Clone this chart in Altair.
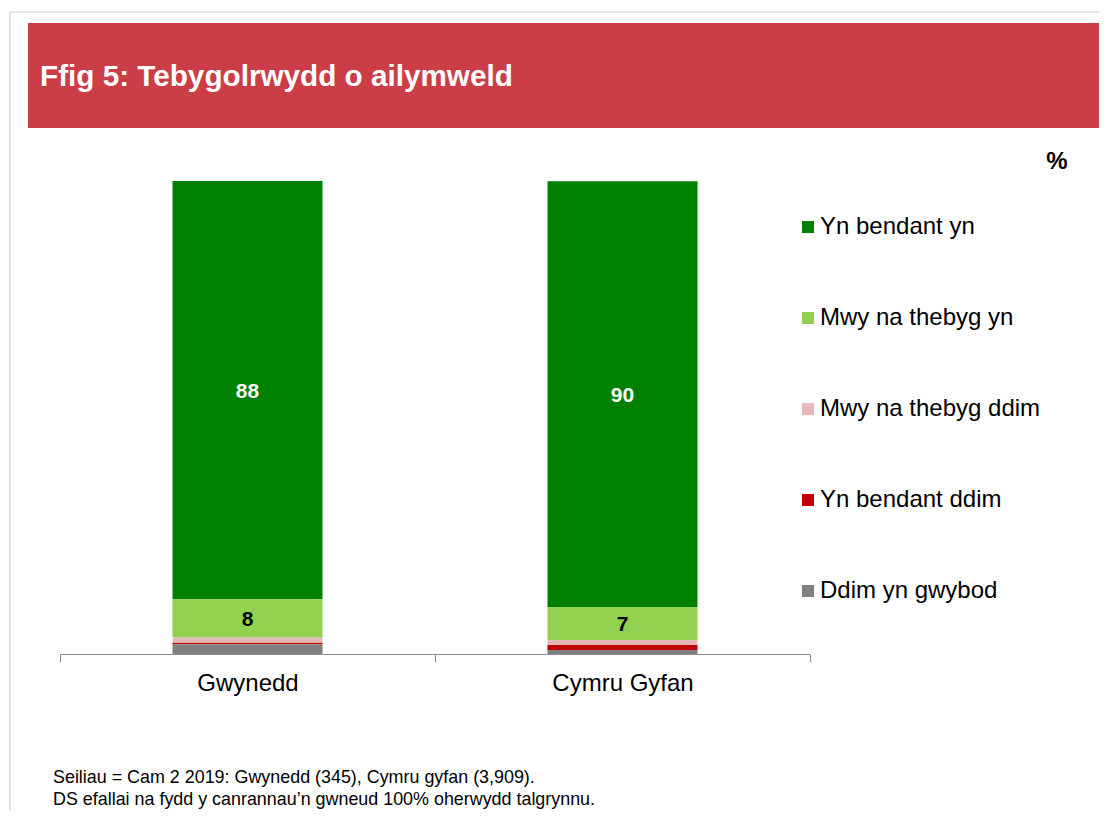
import altair as alt
import pandas as pd

# ---- data ----
areas = ["Gwynedd", "Cymru Gyfan"]
categories = ["Yn bendant yn", "Mwy na thebyg yn", "Mwy na thebyg ddim",
              "Yn bendant ddim", "Ddim yn gwybod"]
colors = ["#008000", "#92D050", "#E6B9B8", "#C00000", "#808080"]
gwynedd = [88.4, 8.1, 1.1, 0.35, 2.05]
cymru_gyfan = [90.0, 7.0, 1.05, 1.05, 0.85]
label_colors = ["white", "black", "black", "black", "black"]
title_text = "Ffig 5: Tebygolrwydd o ailymweld"
notes = ["Seiliau = Cam 2 2019: Gwynedd (345), Cymru gyfan (3,909).",
         "DS efallai na fydd y canrannau\u2019n gwneud 100% oherwydd talgrynnu."]
unit_text = "%"

FONT = "Liberation Sans"

rows = []
for area, vals in zip(areas, [gwynedd, cymru_gyfan]):
    for i, (cat, v) in enumerate(zip(categories, vals)):
        rows.append({"area": area, "category": cat, "value": v,
                     "order": len(categories) - 1 - i, "lc": label_colors[i]})
df = pd.DataFrame(rows)

W, H = 750, 473

base = alt.Chart(df)

bars = base.mark_bar(width=alt.RelativeBandSize(0.4)).encode(
    x=alt.X("area:N", sort=areas, title=None,
            scale=alt.Scale(paddingInner=0, paddingOuter=0),
            axis=alt.Axis(labelAngle=0, labelFont=FONT, labelFontSize=24,
                          labelColor="black", labelPadding=9,
                          domainColor="#8c8c8c", tickColor="#8c8c8c",
                          tickSize=8, tickBand="extent", domainWidth=1)),
    y=alt.Y("value:Q", stack="zero", scale=alt.Scale(domain=[0, 100], nice=False),
            axis=None),
    color=alt.Color("category:N", sort=categories,
                    scale=alt.Scale(domain=categories, range=colors),
                    legend=alt.Legend(title=None, orient="none", legendX=734,
                                      legendY=34, symbolType="square",
                                      symbolSize=144, symbolStrokeWidth=0,
                                      symbolOffset=2,
                                      labelFont=FONT, labelFontSize=24,
                                      labelColor="black", labelOffset=0,
                                      rowPadding=67, labelLimit=400)),
    order=alt.Order("order:Q", sort="ascending"),
)

labels = base.transform_stack(
    stack="value", groupby=["area"], as_=["y0", "y1"],
    sort=[alt.SortField("order", "ascending")]
).transform_calculate(
    mid="(datum.y0 + datum.y1) / 2"
).transform_filter(
    "datum.value >= 5"
).mark_text(font=FONT, fontSize=21, fontWeight="bold", baseline="middle", dy=2).encode(
    x=alt.X("area:N", sort=areas),
    y=alt.Y("mid:Q"),
    text=alt.Text("value:Q", format=".0f"),
    color=alt.Color("lc:N", scale=None),
)

one = pd.DataFrame({"k": [0]})

frame_v = alt.Chart(one).mark_rule(color="#c8c8c8", strokeWidth=1).encode(
    x=alt.value(-50), y=alt.value(-169), y2=alt.value(640))
frame_h = alt.Chart(one).mark_rule(color="#c8c8c8", strokeWidth=1).encode(
    x=alt.value(-50), x2=alt.value(1050), y=alt.value(-169))
banner = alt.Chart(one).mark_rect(color="#CB3D47").encode(
    x=alt.value(-32), x2=alt.value(1050), y=alt.value(-158), y2=alt.value(-53))
title = alt.Chart(pd.DataFrame({"t": [title_text]})).mark_text(
    font=FONT, fontSize=29.7, fontWeight="bold", color="white",
    align="left", baseline="alphabetic").encode(
    x=alt.value(-20), y=alt.value(-95), text="t:N")
unit = alt.Chart(pd.DataFrame({"t": [unit_text]})).mark_text(
    font=FONT, fontSize=24, fontWeight="bold", color="black",
    align="center", baseline="middle").encode(
    x=alt.value(997), y=alt.value(-19), text="t:N")
note1 = alt.Chart(pd.DataFrame({"t": [notes[0]]})).mark_text(
    font=FONT, fontSize=17.9, color="black", align="left", baseline="middle").encode(
    x=alt.value(-7), y=alt.value(597), text="t:N")
note2 = alt.Chart(pd.DataFrame({"t": [notes[1]]})).mark_text(
    font=FONT, fontSize=17.9, color="black", align="left", baseline="middle").encode(
    x=alt.value(-7), y=alt.value(619), text="t:N")

chart = alt.layer(frame_v, frame_h, banner, title, unit, bars, labels, note1, note2).properties(
    width=W, height=H,
    padding={"left": 52, "top": 173, "right": 289, "bottom": 156},
    autosize=alt.AutoSizeParams(type="none"),
    background="white",
).configure_view(stroke=None)

chart.save("out.html", embed_options={"renderer": "svg", "actions": False})
